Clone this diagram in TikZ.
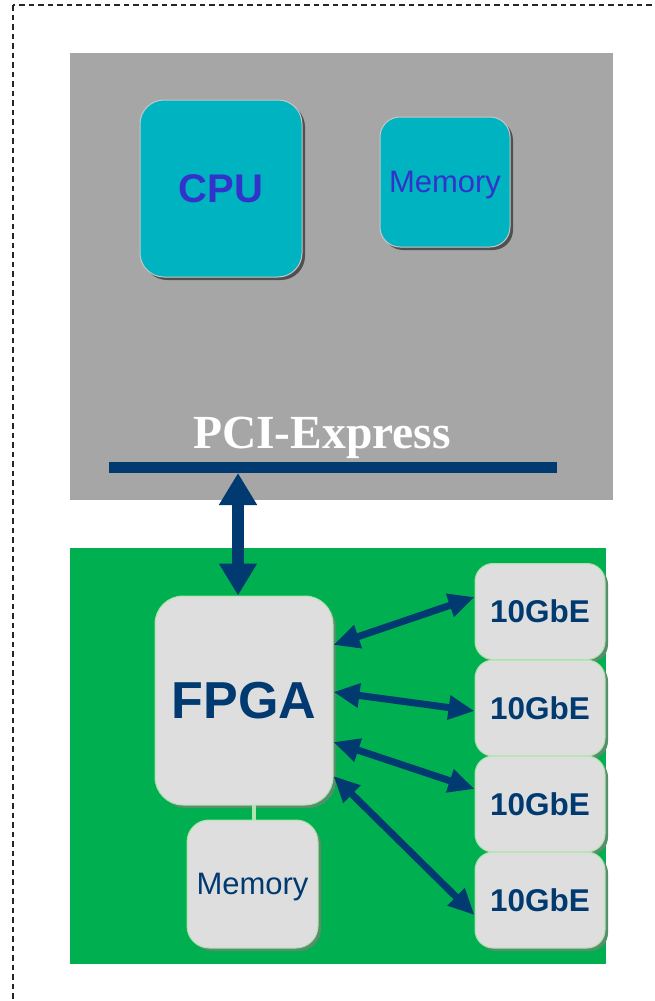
\documentclass[tikz,border=0pt]{standalone}
\usepackage{fontspec}
\setmainfont{Liberation Sans}
\newfontfamily\serifbold{Liberation Serif}
\usetikzlibrary{arrows.meta,calc}
\definecolor{grayback}{RGB}{166,166,166}
\definecolor{greenback}{RGB}{0,176,80}
\definecolor{tealbox}{RGB}{0,179,192}
\definecolor{lightbox}{RGB}{222,222,222}
\definecolor{navy}{RGB}{0,58,112}
\definecolor{bluetext}{RGB}{51,51,204}
\definecolor{shadowgray}{RGB}{80,80,80}
\definecolor{shadowgreen}{RGB}{90,140,110}
\tikzset{
  tealstyle/.style={fill=tealbox, draw=gray!45, line width=1pt, inner sep=0pt,
    preaction={fill=shadowgray, transform canvas={shift={(3pt,-3pt)}}}},
  lightstyle/.style={fill=lightbox, draw=green!25!lightbox, line width=1pt, inner sep=0pt,
    preaction={fill=shadowgreen, transform canvas={shift={(3pt,-3pt)}}}},
  linkarrow/.style={navy, line width=7pt, {Triangle[width=23pt,length=26pt]}-{Triangle[width=23pt,length=26pt]}},
}
\begin{document}
\begin{tikzpicture}[x=1pt,y=-1pt]
\useasboundingbox (0,0) rectangle (654,1001);
% dashed frame
\begin{scope}
\clip (0,0) rectangle (654,1001);
\draw[dash pattern=on 5.5pt off 4pt, line width=1.5pt, black!85] (13,5) rectangle (680,1030);
\end{scope}
% backgrounds
\fill[grayback] (70,53) rectangle (613,500);
\fill[greenback] (70,548) rectangle (606,964);
% host boxes
\node[tealstyle, rounded corners=24pt, minimum width=162pt, minimum height=177pt] (cpu) at (221,188.5)
  {\fontsize{40}{48}\selectfont\bfseries\color{bluetext}CPU};
\node[tealstyle, rounded corners=20pt, minimum width=130pt, minimum height=130pt, text depth=0pt] (hmem) at (445,182)
  {\fontsize{31}{37}\selectfont\color{bluetext}Memory};
% PCI-Express bus
\node[anchor=base, inner sep=0pt, text=white] (pcie) at (322,448)
  {\serifbold\fontsize{47.5}{56}\selectfont\bfseries PCI-Express};
\coordinate (busL) at (109,467.5);
\coordinate (busR) at (557,467.5);
\draw[navy, line width=11pt] (busL) -- (busR);
% FPGA side
\node[lightstyle, rounded corners=28pt, minimum width=178pt, minimum height=209pt] (fpga) at (244,700.5)
  {\fontsize{52}{62}\selectfont\bfseries\color{navy}FPGA};
\node[lightstyle, rounded corners=22pt, minimum width=131pt, minimum height=128pt, text depth=0pt] (fmem) at (252.5,884)
  {\fontsize{31}{37}\selectfont\color{navy}Memory};
\draw[lightbox!80!green, line width=4pt] (254,805) -- (fmem.north -| 254,0);
\foreach \i/\y in {1/611.5,2/708,3/804,4/900}{
  \node[lightstyle, rounded corners=18pt, minimum width=130pt, minimum height=96pt] (g\i) at (540,\y)
    {\fontsize{31.5}{38}\selectfont\bfseries\color{navy}10GbE};
}
% PCIe to FPGA arrow
\coordinate (busA) at (238,473);
\draw[navy, line width=12pt, {Triangle[width=36pt,length=32pt]}-{Triangle[width=36pt,length=32pt]}]
  (busA) -- (busA |- fpga.north);
% links
\draw[linkarrow] (fpga.east |- 0,645) -- (g1.west |- 0,597);
\draw[linkarrow] (fpga.east |- 0,692) -- (g2.west |- 0,711);
\draw[linkarrow] (fpga.east |- 0,742) -- (g3.west |- 0,789);
\draw[linkarrow] (fpga.east |- 0,776) -- (g4.west |- 0,915);
\end{tikzpicture}
\end{document}
